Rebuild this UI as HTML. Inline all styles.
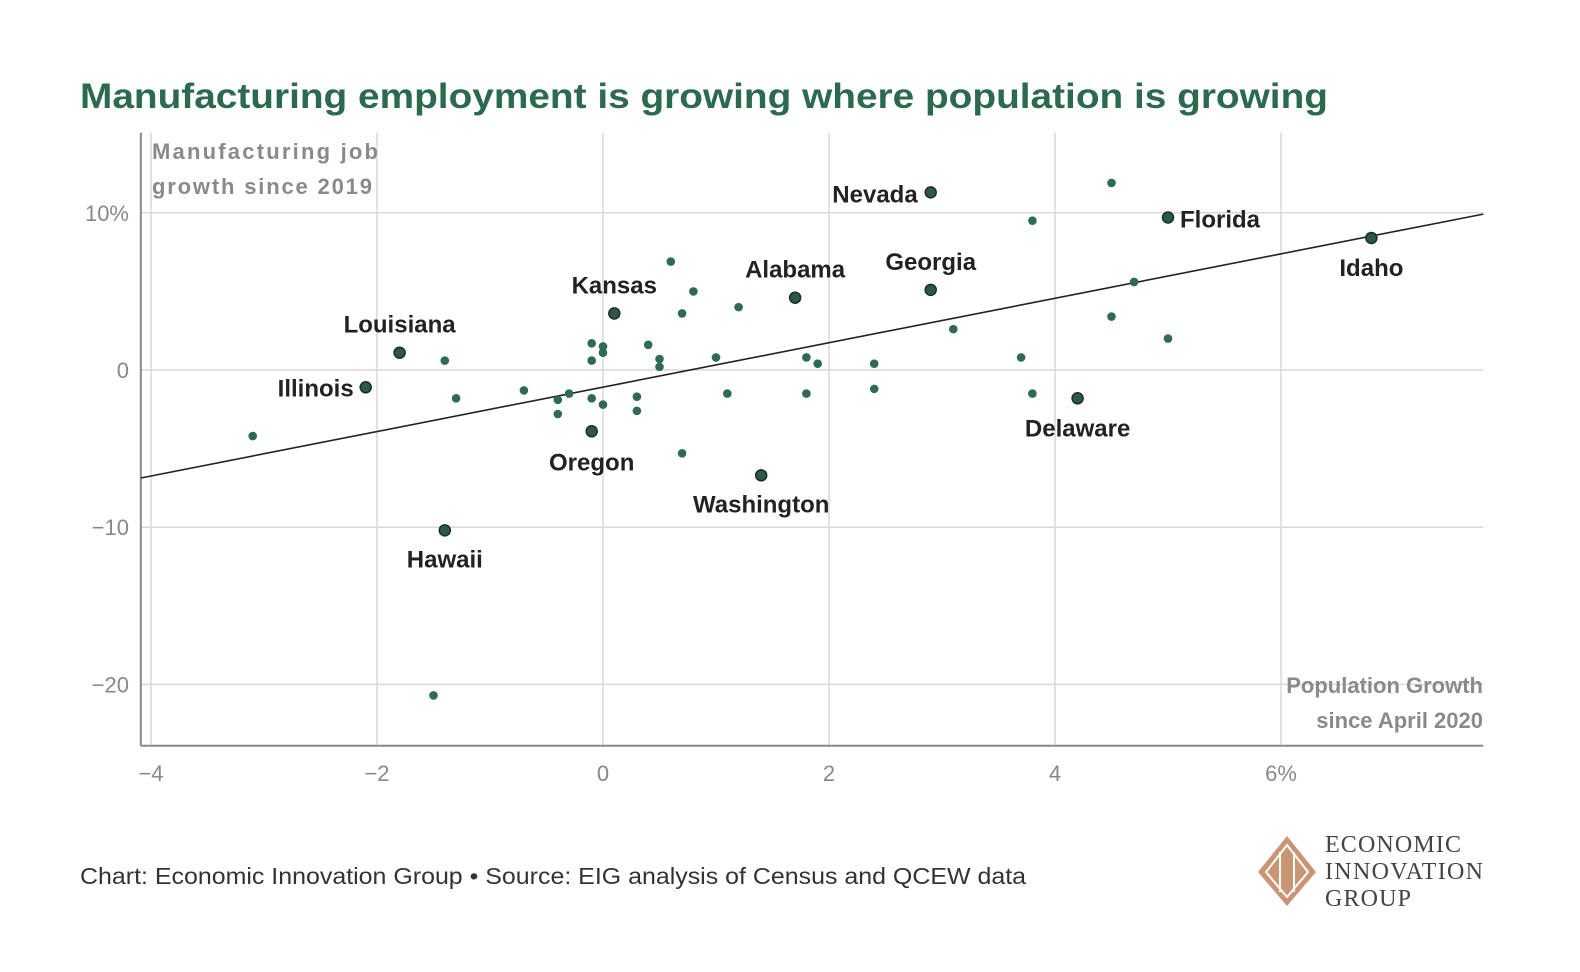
<!DOCTYPE html>
<html><head><meta charset="utf-8"><style>
body{margin:0;background:#fff;}
svg{display:block;font-family:"Liberation Sans",sans-serif;}
</style></head><body>
<svg id="chart" width="1580" height="972" viewBox="0 0 1580 972">
<text x="80" y="108" font-size="35" font-weight="bold" fill="#2c6a4f" textLength="1248" lengthAdjust="spacingAndGlyphs">Manufacturing employment is growing where population is growing</text>
<g id="grid"></g>
<g id="axes"></g>
<line id="trend" stroke="#222" stroke-width="1.6"/>
<g id="dots"></g>
<g id="labels"></g>
<text x="152" y="159" font-size="22" font-weight="bold" fill="#8a8a8a"><tspan x="152" textLength="226">Manufacturing job</tspan><tspan x="152" dy="35" textLength="220">growth since 2019</tspan></text>
<text x="1483" y="693" font-size="22" font-weight="bold" fill="#8a8a8a" text-anchor="end"><tspan x="1483">Population Growth</tspan><tspan x="1483" dy="35">since April 2020</tspan></text>
<text x="80" y="884" font-size="23" fill="#333" textLength="946" lengthAdjust="spacingAndGlyphs">Chart: Economic Innovation Group • Source: EIG analysis of Census and QCEW data</text>
<g>
<polygon points="1287,836 1316,872 1287,906 1258,872" fill="#c99574"/>
<polygon points="1287,845 1308,872 1287,897 1266,872" fill="none" stroke="#fff" stroke-width="2"/>
<line x1="1280" y1="852" x2="1280" y2="892" stroke="#fff" stroke-width="2"/>
<line x1="1294" y1="852" x2="1294" y2="892" stroke="#fff" stroke-width="2"/>
<text x="1325" y="852" font-family="Liberation Serif,serif" font-size="24" fill="#444"><tspan x="1325" textLength="136">ECONOMIC</tspan><tspan x="1325" dy="27" textLength="158">INNOVATION</tspan><tspan x="1325" dy="27" textLength="86">GROUP</tspan></text>
</g>
</svg>
<script>
const xTicks=[-4,-2,0,2,4,6];
const xTickLabels=["−4","−2","0","2","4","6%"];
const yTicks=[10,0,-10,-20];
const yTickLabels=["10%","0","−10","−20"];
const pointX=[2.9,4.5,3.8,5.0,6.8,0.6,2.9,1.7,0.8,0.1,0.7,1.2,4.7,4.5,3.1,5.0,-1.8,-1.4,-0.1,0,0,-0.1,0.4,0.5,0.5,1.0,1.8,1.9,2.4,3.7,-2.1,-1.3,-0.7,-0.3,-0.4,-0.4,-0.1,0,0.3,0.3,1.1,1.8,2.4,3.8,4.2,-0.1,0.7,1.4,-3.1,-1.4,-1.5];
const pointY=[11.3,11.9,9.5,9.7,8.4,6.9,5.1,4.6,5.0,3.6,3.6,4.0,5.6,3.4,2.6,2.0,1.1,0.6,1.7,1.5,1.1,0.6,1.6,0.7,0.2,0.8,0.8,0.4,0.4,0.8,-1.1,-1.8,-1.3,-1.5,-1.9,-2.8,-1.8,-2.2,-1.7,-2.6,-1.5,-1.5,-1.2,-1.5,-1.8,-3.9,-5.3,-6.7,-4.2,-10.2,-20.7];
const pointNames=["Nevada","","","Florida","Idaho","","Georgia","Alabama","","Kansas","","","","","","","Louisiana","","","","","","","","","","","","","","Illinois","","","","","","","","","","","","","","Delaware","Oregon","","Washington","","Hawaii",""];
const trendSlope=1.413, trendIntercept=-1.09;
const xMin=-4.09,xMax=7.79,yMin=-23.9,yMax=15.1;
const X=v=>603+v*113, Y=v=>370-v*15.72;
const NS="http://www.w3.org/2000/svg";
function mk(tag,parent,attrs){const e=document.createElementNS(NS,tag);for(const k in attrs)e.setAttribute(k,attrs[k]);parent.appendChild(e);return e;}
const grid=document.getElementById('grid'),axes=document.getElementById('axes');
xTicks.forEach((t,i)=>{
  if(t>xMin){const l=mk('line',grid,{x1:X(t),x2:X(t),y1:Y(yMax),y2:Y(yMin),stroke:'#d9d9d9','stroke-width':1.5});
  
  }
  const tx=mk('text',axes,{x:X(t),y:781,'text-anchor':'middle','font-size':22,fill:'#888'});tx.textContent=xTickLabels[i];
  
  
});
yTicks.forEach((t,i)=>{
  const l=mk('line',grid,{x1:X(xMin),x2:X(xMax),y1:Y(t),y2:Y(t),stroke:'#d9d9d9','stroke-width':1.5});
  
  
  const tx=mk('text',axes,{x:129,y:Y(t)+8,'text-anchor':'end','font-size':22,fill:'#888'});tx.textContent=yTickLabels[i];
  
  
});
const ax=mk('line',axes,{x1:X(xMin),x2:X(xMin),y1:Y(yMax),y2:Y(yMin),stroke:'#888','stroke-width':2});


const bx=mk('line',axes,{x1:X(xMin),x2:X(xMax),y1:Y(yMin),y2:Y(yMin),stroke:'#888','stroke-width':2});


const tr=document.getElementById('trend');
tr.setAttribute('x1',X(xMin));tr.setAttribute('y1',Y(trendIntercept+trendSlope*xMin));
tr.setAttribute('x2',X(xMax));tr.setAttribute('y2',Y(trendIntercept+trendSlope*xMax));
const labelPos={Nevada:[-13,10,'end'],Florida:[12,10,'start'],Idaho:[0,38,'middle'],Georgia:[0,-20,'middle'],Alabama:[0,-20,'middle'],Kansas:[0,-20,'middle'],Louisiana:[0,-20,'middle'],Illinois:[-12,9,'end'],Oregon:[0,39,'middle'],Washington:[0,37,'middle'],Delaware:[0,38,'middle'],Hawaii:[0,37,'middle']};
const dots=document.getElementById('dots'),labels=document.getElementById('labels');
pointX.forEach((v,i)=>{
  const n=pointNames[i];
  const c=mk('circle',dots,n?{cx:X(v),cy:Y(pointY[i]),r:5.5,fill:'#2a5a47',stroke:'#1c2e27','stroke-width':1.5}:{cx:X(v),cy:Y(pointY[i]),r:4.3,fill:'#2e6b52'});
  
  
  if(n){const p=labelPos[n];
    const t=mk('text',labels,{x:X(v)+p[0],y:Y(pointY[i])+p[1],'text-anchor':p[2],'font-size':24,'font-weight':'bold',fill:'#222'});
    t.textContent=n;
    
    }
});
</script>
</body></html>
